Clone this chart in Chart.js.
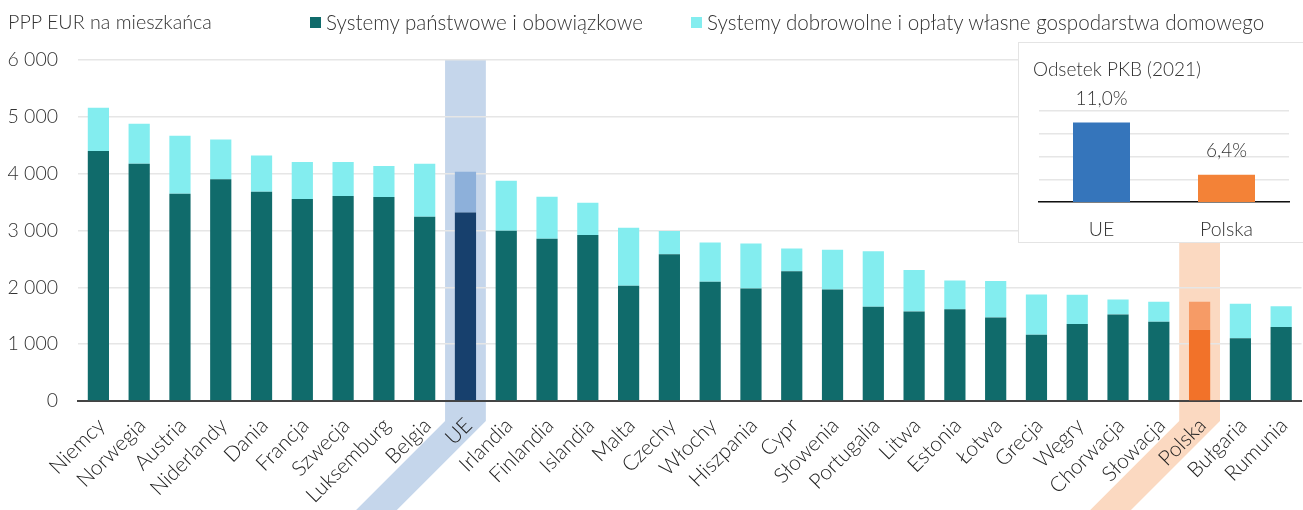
<!DOCTYPE html>
<html lang="pl">
<head>
<meta charset="utf-8">
<script src="https://cdn.jsdelivr.net/npm/chart.js@4.4.1/dist/chart.umd.min.js"></script>
<style>
  body { margin: 0; background: #fff; font-family: Lato, "Noto Sans", sans-serif; font-weight: 300; color: #333; }
  #wrap { position: relative; width: 1303px; height: 510px; overflow: hidden; }
  #main { position: absolute; left: 0; top: 0; }
  .txt { position: absolute; font-size: 20.6px; line-height: 22px; white-space: nowrap; display: flex; align-items: center; }
  .sq { display: inline-block; width: 11px; height: 11px; margin-right: 5px; }
  #inset { position: absolute; left: 1018px; top: 42px; width: 300px; height: 199px; background: #fff; border: 1px solid #e4e4e4; }
  #insetCanvas { position: absolute; left: 0; top: 0; }
</style>
</head>
<body>
<div id="wrap">
  <canvas id="main" width="1303" height="510"></canvas>
  <div class="txt" style="left:8px;top:11px;font-size:19.7px;">PPP EUR na mieszkańca</div>
  <div class="txt" style="left:310px;top:11px;"><span class="sq" style="background:#106b6b"></span>Systemy państwowe i obowiązkowe</div>
  <div class="txt" style="left:691px;top:11px;"><span class="sq" style="background:#83edef"></span>Systemy dobrowolne i opłaty własne gospodarstwa domowego</div>
  <div id="inset">
    <canvas id="insetCanvas" width="285" height="199"></canvas>
    <div class="txt" style="left:14px;top:15px;font-size:19px;">Odsetek PKB (2021)</div>
  </div>
</div>
<script>
console.log("[wydatki-zdrowie] start");

Chart.defaults.font.family = "Lato, 'Noto Sans', sans-serif";
Chart.defaults.font.weight = "300";
Chart.defaults.color = "#333";

// Dane - wykres glowny
const kraje = ["Niemcy", "Norwegia", "Austria", "Niderlandy", "Dania", "Francja", "Szwecja", "Luksemburg", "Belgia", "UE",
  "Irlandia", "Finlandia", "Islandia", "Malta", "Czechy", "Włochy", "Hiszpania", "Cypr", "Słowenia", "Portugalia",
  "Litwa", "Estonia", "Łotwa", "Grecja", "Węgry", "Chorwacja", "Słowacja", "Polska", "Bułgaria", "Rumunia"];
const panstwowe = [4400, 4175, 3645, 3900, 3680, 3555, 3605, 3590, 3240, 3315,
  2995, 2855, 2920, 2030, 2580, 2100, 1980, 2285, 1960, 1660,
  1575, 1615, 1470, 1165, 1355, 1520, 1395, 1255, 1105, 1300];
const dobrowolne = [760, 705, 1020, 700, 640, 650, 600, 545, 935, 720,
  880, 740, 570, 1020, 410, 690, 790, 400, 700, 975,
  730, 505, 640, 710, 515, 265, 350, 490, 605, 365];
const yTicks = [0, 1000, 2000, 3000, 4000, 5000, 6000];

// Dane - wstawka
const insetKategorie = ["UE", "Polska"];
const insetWartosci = [11.0, 6.4];

// kolory, wyroznione slupki
const TEAL = "#106b6b", CYAN = "#83edef";
const wyroznienia = {
  "UE": { dol: "#17406d", gora: "#8db0da", pas: "#c5d6eb" },
  "Polska": { dol: "#f27229", gora: "#f69b66", pas: "#fbd9c1" }
};

const kolDol = kraje.map(k => wyroznienia[k] ? wyroznienia[k].dol : TEAL);
const kolGora = kraje.map(k => wyroznienia[k] ? wyroznienia[k].gora : CYAN);

function fmt(v) {
  return String(v).replace(/\B(?=(\d{3})+(?!\d))/g, " ");
}

/* ============================================================
   Pasy podswietlenia (UE, Polska) - pod wszystkim
============================================================ */
const pasy = {
  id: "pasy",
  beforeDraw(chart) {
    const { ctx, scales: { x, y } } = chart;
    const w = x.getPixelForValue(1) - x.getPixelForValue(0);
    Object.keys(wyroznienia).forEach(nazwa => {
      const i = kraje.indexOf(nazwa);
      const cx = x.getPixelForValue(i);
      const l = cx - w / 2, r = cx + w / 2;
      const top = y.getPixelForValue(yTicks[yTicks.length - 1]);
      const zalom = y.bottom + 20;
      const dol = chart.height;
      const d = dol - zalom;
      ctx.save();
      ctx.fillStyle = wyroznienia[nazwa].pas;
      ctx.beginPath();
      ctx.moveTo(l, top);
      ctx.lineTo(r, top);
      ctx.lineTo(r, zalom);
      ctx.lineTo(r - d, dol);
      ctx.lineTo(l - d, dol);
      ctx.lineTo(l, zalom);
      ctx.closePath();
      ctx.fill();
      ctx.restore();
    });
  }
};

new Chart(document.getElementById("main"), {
  type: "bar",
  plugins: [pasy],
  data: {
    labels: kraje,
    datasets: [
      { label: "Systemy państwowe i obowiązkowe", data: panstwowe, backgroundColor: kolDol,
        barPercentage: 0.52, categoryPercentage: 1 },
      { label: "Systemy dobrowolne i opłaty własne gospodarstwa domowego", data: dobrowolne, backgroundColor: kolGora,
        barPercentage: 0.52, categoryPercentage: 1 }
    ]
  },
  options: {
    responsive: false,
    animation: false,
    layout: { padding: { top: 60, right: 1, left: 0, bottom: 0 } },
    plugins: { legend: { display: false }, tooltip: { enabled: false } },
    scales: {
      x: {
        stacked: true,
        grid: { display: false },
        border: { color: "#444", width: 2 },
        ticks: { minRotation: 45, maxRotation: 45, color: "#222", font: { size: 21 }, padding: 4, labelOffset: 3, autoSkip: false },
        afterFit: s => { s.height = 109; }
      },
      y: {
        stacked: true,
        min: yTicks[0],
        max: yTicks[yTicks.length - 1],
        afterBuildTicks: s => { s.ticks = yTicks.map(v => ({ value: v })); },
        ticks: { callback: v => fmt(v), color: "#333", font: { size: 19.5 }, padding: 20 },
        grid: { color: "#e6e6e6", lineWidth: 1.5, drawTicks: false },
        border: { display: false },
        afterFit: s => { s.width = 78; }
      }
    }
  }
});

/* ============================================================
   Wstawka: odsetek PKB
============================================================ */
const etykiety = {
  id: "etykiety",
  afterDatasetsDraw(chart) {
    const { ctx } = chart;
    const meta = chart.getDatasetMeta(0);
    ctx.save();
    ctx.font = "300 19px Lato, 'Noto Sans', sans-serif";
    ctx.fillStyle = "#333";
    ctx.textAlign = "center";
    ctx.textBaseline = "middle";
    meta.data.forEach((bar, i) => {
      ctx.fillText(insetWartosci[i].toFixed(1).replace(".", ",") + "%", bar.x, bar.y - 24);
    });
    ctx.restore();
  }
};

new Chart(document.getElementById("insetCanvas"), {
  type: "bar",
  plugins: [etykiety],
  data: {
    labels: insetKategorie,
    datasets: [{ data: insetWartosci, backgroundColor: ["#3575bb", "#f38237"], barPercentage: 0.456, categoryPercentage: 1 }]
  },
  options: {
    responsive: false,
    animation: false,
    layout: { padding: { top: 68, left: 20, right: 15, bottom: 0 } },
    plugins: { legend: { display: false }, tooltip: { enabled: false } },
    scales: {
      x: {
        grid: { display: false },
        border: { color: "#111", width: 1.5 },
        ticks: { color: "#333", font: { size: 19.5 }, padding: 8 },
        afterFit: s => { s.height = 40; }
      },
      y: {
        min: 4, max: 12,
        ticks: { display: false, stepSize: 2 },
        grid: { color: "#e6e6e6", lineWidth: 1.5, drawTicks: false },
        border: { display: false },
        afterFit: s => { s.width = 0; }
      }
    }
  }
});
</script>
</body>
</html>
